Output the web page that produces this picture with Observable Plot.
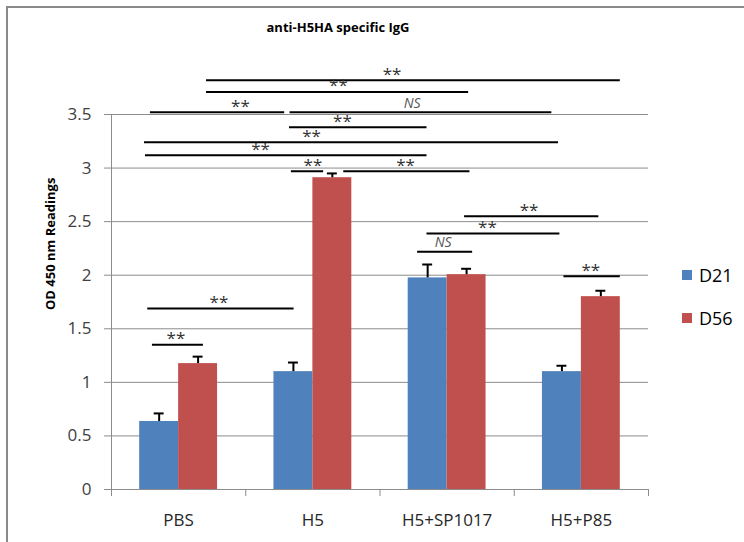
<!DOCTYPE html>
<html>
<head>
<meta charset="utf-8">
<script src="https://cdn.jsdelivr.net/npm/d3@7"></script>
<script src="https://cdn.jsdelivr.net/npm/@observablehq/plot@0.6"></script>
<style>
  body { margin: 0; background: #fff; }
  #wrap { position: relative; width: 744px; height: 542px; overflow: hidden; font-family: "Open Sans", Lato, sans-serif; }
  #frame { position: absolute; left: 6px; top: 6px; width: 900px; height: 700px; border-left: 2px solid #8a8a8a; border-top: 2px solid #8a8a8a; box-sizing: border-box; }
  #title { position: absolute; top: 18px; left: 238px; width: 200px; text-align: center; font-weight: bold; font-size: 13px; color: #000; }
  #chart { position: absolute; left: 0; top: 0; }
  .leg { position: absolute; left: 682px; font-size: 18px; color: #000; display: flex; align-items: center; }
  .leg span.sw { display: inline-block; width: 10px; height: 10px; margin-right: 7px; }
</style>
</head>
<body>
<div id="wrap">
  <div id="frame"></div>
  <div id="chart"></div>
  <div id="title">anti-H5HA specific IgG</div>
  <div class="leg" style="top:263px"><span class="sw" style="background:#4F81BD"></span>D21</div>
  <div class="leg" style="top:306px"><span class="sw" style="background:#C0504D"></span>D56</div>
</div>
<script>
const groups = ["PBS", "H5", "H5+SP1017", "H5+P85"];
const seriesNames = ["D21", "D56"];
const seriesColors = ["#4F81BD", "#C0504D"];
const d21 = [0.635, 1.10, 1.975, 1.10];
const d56 = [1.175, 2.91, 2.005, 1.80];
const d21Err = [0.075, 0.085, 0.125, 0.055];
const d56Err = [0.065, 0.04, 0.055, 0.055];
const yTicks = [0, 0.5, 1, 1.5, 2, 2.5, 3, 3.5];

// significance brackets (x in category units, 0..4; y in OD units)
const sigX1 =    [0.708, 0.708, 0.29, 1.33, 1.326, 0.246, 0.253, 1.34, 1.73, 2.63, 2.35, 2.28, 3.37, 0.27, 0.305];
const sigX2 =    [3.79,  2.66,  1.29, 3.28, 2.35,  3.33,  2.35,  1.58, 2.67, 3.63, 3.34, 2.69, 3.79, 1.36, 0.685];
const sigY =     [3.82,  3.71,  3.52, 3.52, 3.38,  3.24,  3.12,  2.97, 2.97, 2.55, 2.39, 2.22, 1.99, 1.69, 1.35];
const sigLabelX =[2.09,  1.69,  0.96, 2.24, 1.72,  1.49,  1.11,  1.50, 2.19, 3.11, 2.80, 2.47, 3.57, 0.80, 0.48];
const sigLabel = ["**", "**", "**", "NS", "**", "**", "**", "**", "**", "**", "**", "NS", "**", "**", "**"];

const barInset = 0.21; // group occupies [i+0.21, i+0.79]
const bars = [];
groups.forEach((g, i) => {
  [d21, d56].forEach((vals, s) => {
    const errs = s === 0 ? d21Err : d56Err;
    const x1 = i + barInset + s * (0.5 - barInset);
    const x2 = x1 + (0.5 - barInset);
    bars.push({group: g, series: seriesNames[s], x1, x2, xc: (x1 + x2) / 2, value: vals[i], top: vals[i] + errs[i]});
  });
});
const sig = sigY.map((y, k) => ({x1: sigX1[k], x2: sigX2[k], y, lx: sigLabelX[k], label: sigLabel[k]}));

const grid = "#8c8c8c";
const chart = Plot.plot({
  width: 744,
  height: 542,
  marginLeft: 111,
  marginRight: 96,
  marginTop: 114,
  marginBottom: 53,
  style: {fontFamily: "'Open Sans', Lato, sans-serif", background: "transparent", overflow: "visible"},
  x: {type: "linear", domain: [0, 4]},
  y: {domain: [0, 3.5]},
  color: {domain: seriesNames, range: seriesColors},
  marks: [
    Plot.ruleY(yTicks, {stroke: grid, strokeWidth: 1}),
    Plot.axisY({ticks: yTicks, tickSize: 7, tickPadding: 13, stroke: grid, fill: "#404040", fontSize: 17, label: null, tickFormat: d => String(d)}),
    Plot.rectY(bars, {x1: "x1", x2: "x2", y1: 0, y2: "value", fill: "series"}),
    Plot.ruleX(bars, {x: "xc", y1: "value", y2: "top", stroke: "#000", strokeWidth: 2}),
    Plot.ruleY(bars, {x1: d => d.xc - 0.037, x2: d => d.xc + 0.037, y: "top", stroke: "#000", strokeWidth: 2}),
    Plot.ruleX([0], {stroke: grid}),
    Plot.ruleY([0], {stroke: grid}),
    Plot.axisX({ticks: [0, 1, 2, 3, 4], tickSize: 7, stroke: grid, tickFormat: () => "", label: null}),
    Plot.axisX({ticks: [0.5, 1.5, 2.5, 3.5], tickSize: 0, tickPadding: 24, fill: "#262626", fontSize: 17, tickFormat: d => groups[Math.floor(d)], label: null}),
    Plot.ruleY(sig, {x1: "x1", x2: "x2", y: "y", stroke: "#000", strokeWidth: 2}),
    Plot.text(sig.filter(d => d.label === "**"), {x: "lx", y: "y", text: "label", dy: -6, fill: "#333", fontSize: 17}),
    Plot.text(sig.filter(d => d.label === "NS"), {x: "lx", y: "y", text: "label", dy: -9, fill: "#555", fontSize: 14, fontStyle: "italic"}),
    Plot.text(["OD 450 nm Readings"], {frameAnchor: "left", rotate: -90, dx: -61, dy: 8, fontWeight: "bold", fontSize: 13, fill: "#000"})
  ]
});
document.getElementById("chart").appendChild(chart);
</script>
</body>
</html>
